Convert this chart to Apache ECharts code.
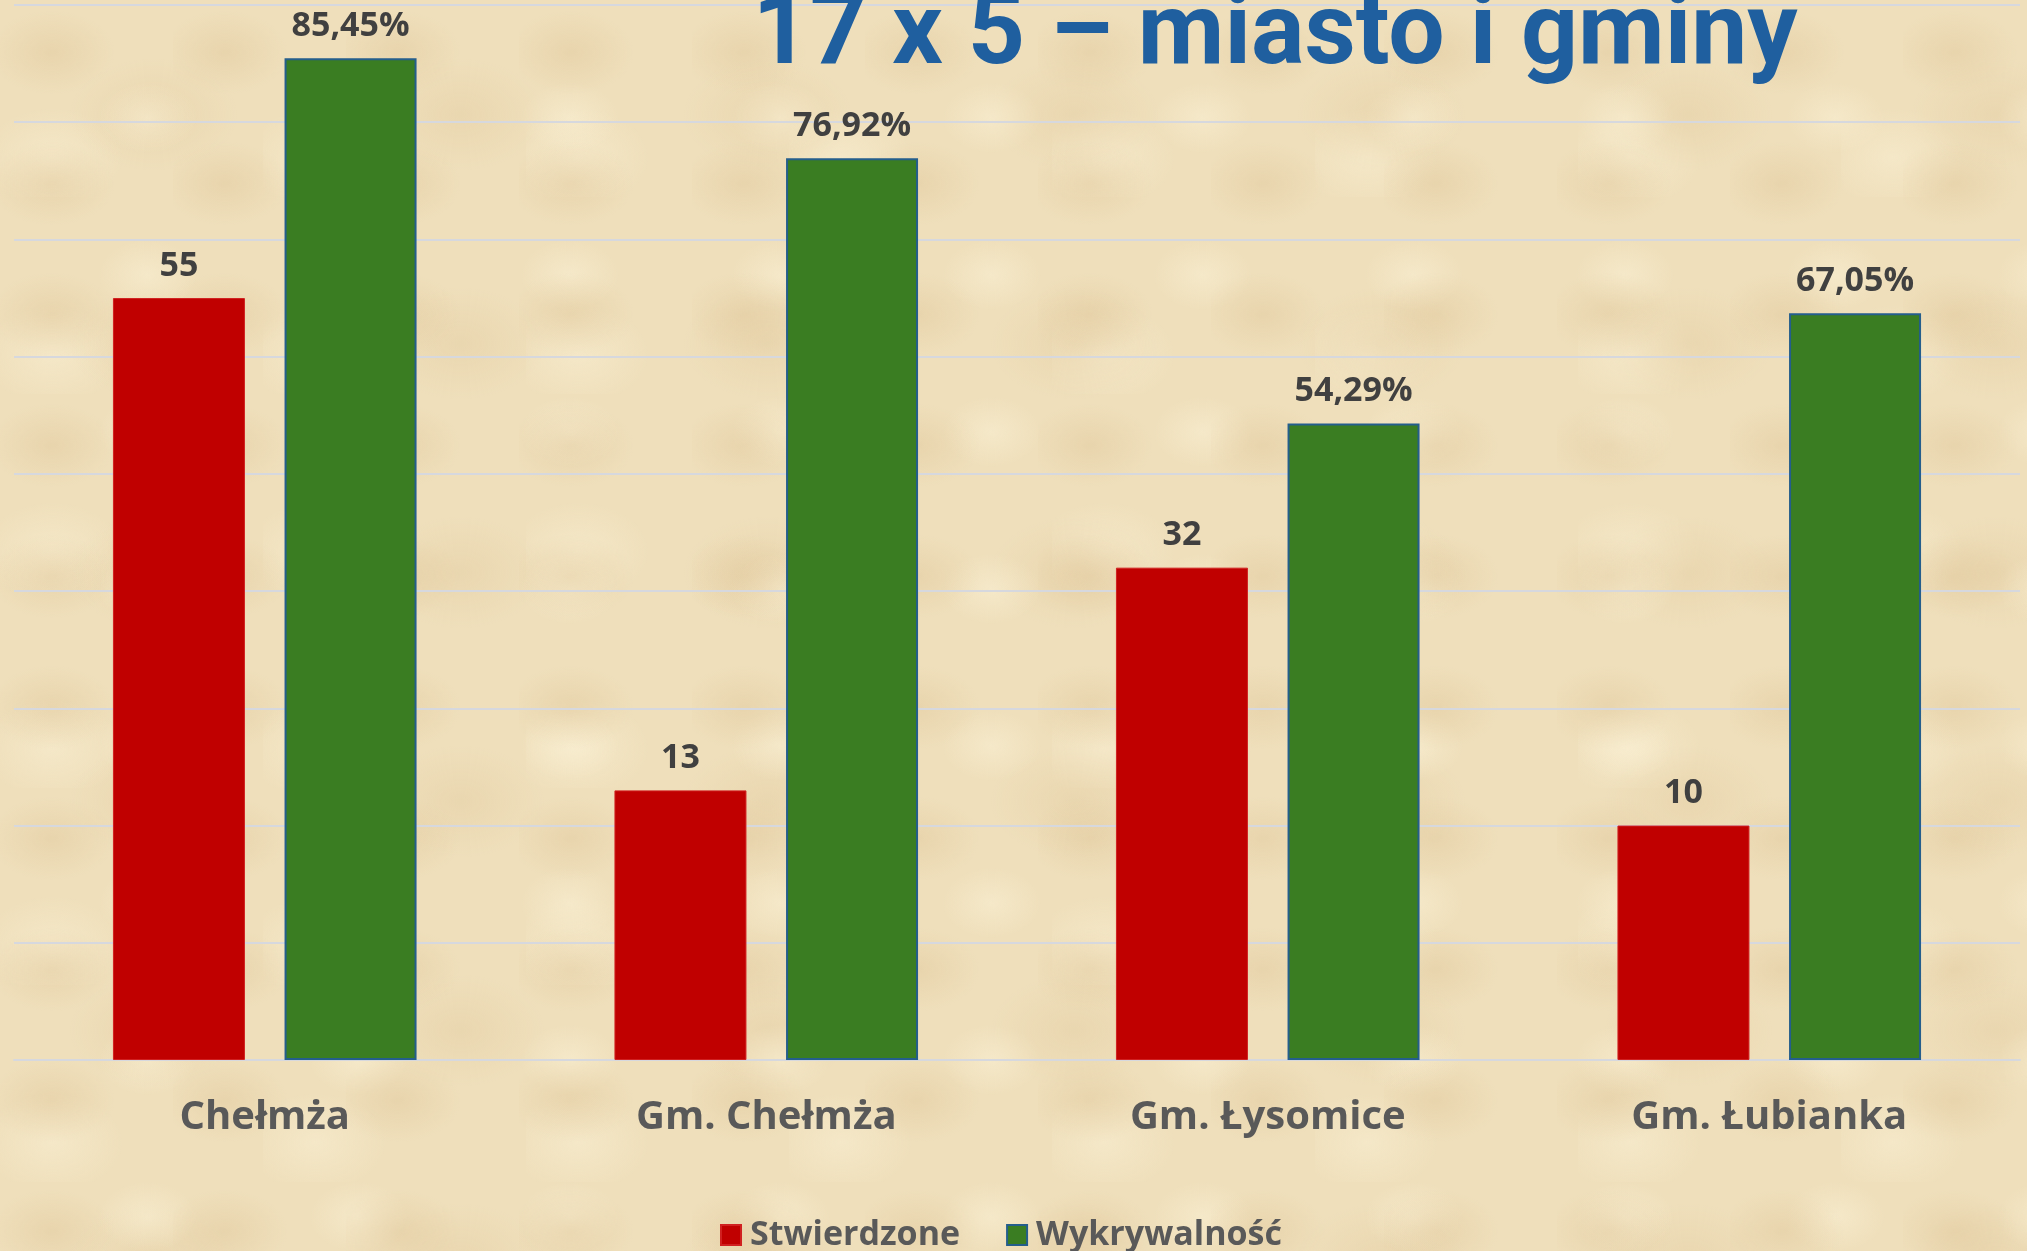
<!DOCTYPE html>
<html>
<head>
<meta charset="utf-8">
<script src="https://cdn.jsdelivr.net/npm/echarts@6/dist/echarts.min.js"></script>
<style>
html, body { margin: 0; padding: 0; width: 100%; height: 100%; overflow: hidden; }
body {
    background-color: #efdfbb;
    background-image:
        radial-gradient(ellipse 90px 60px at 30% 40%, rgba(215,185,135,0.28), rgba(215,185,135,0) 70%),
        radial-gradient(ellipse 70px 50px at 70% 75%, rgba(250,240,212,0.55), rgba(250,240,212,0) 70%),
        radial-gradient(ellipse 120px 80px at 50% 50%, rgba(215,185,135,0.22), rgba(215,185,135,0) 70%),
        radial-gradient(ellipse 100px 70px at 20% 80%, rgba(250,240,212,0.5), rgba(250,240,212,0) 70%);
    background-size: 173px 131px, 211px 157px, 307px 229px, 263px 197px;
}
#main { width: 2027px; height: 1251px; }
</style>
</head>
<body>
<div id="main"></div>
<script>
var categories = ['Chełmża', 'Gm. Chełmża', 'Gm. Łysomice', 'Gm. Łubianka'];
var stwierdzone = [55, 13, 32, 10];
// bar heights as drawn in the picture (last bar is drawn lower than its label)
var wykrywalnosc = [85.45, 76.92, 54.29, 63.7];
var wykrywalnoscLabels = ['85,45%', '76,92%', '54,29%', '67,05%'];

var myChart = echarts.init(document.getElementById('main'));

var labelStyle = {
    show: true,
    position: 'top',
    distance: 15,
    color: '#404040',
    fontFamily: 'Open Sans',
    fontWeight: 'bold',
    fontSize: 34
};

var option = {
    backgroundColor: 'transparent',
    animation: false,
    graphic: [{
        type: 'text',
        style: {
            text: '17 x 5 – miasto i gminy',
            x: 1275,
            y: 38,
            fill: '#1f5f9f',
            font: 'bold 100px Roboto',
            align: 'center',
            verticalAlign: 'middle'
        },
        z: 10
    }],
    legend: {
        bottom: -6,
        left: 715,
        icon: 'rect',
        itemWidth: 20,
        itemHeight: 20,
        itemGap: 46,
        textStyle: {
            color: '#595959',
            fontFamily: 'Open Sans',
            fontWeight: 'bold',
            fontSize: 34,
            padding: [0, 0, 0, 4]
        },
        data: ['Stwierdzone', 'Wykrywalność']
    },
    grid: {
        left: 14,
        right: 7,
        top: 5,
        bottom: 191,
        containLabel: false
    },
    xAxis: {
        type: 'category',
        data: categories,
        axisLine: { lineStyle: { color: '#d6d8de', width: 2 } },
        axisTick: { show: false },
        axisLabel: {
            margin: 38,
            color: '#595959',
            fontFamily: 'Open Sans',
            fontWeight: 'bold',
            fontSize: 40
        }
    },
    yAxis: [{
        type: 'value',
        min: 0,
        max: 90,
        interval: 10,
        axisLabel: { show: false },
        axisLine: { show: false },
        axisTick: { show: false },
        splitLine: { lineStyle: { color: '#d6d8de', width: 2 } }
    }, {
        type: 'value',
        min: -10,
        max: 80,
        interval: 10,
        startValue: -10,
        axisLabel: { show: false },
        axisLine: { show: false },
        axisTick: { show: false },
        splitLine: { show: false }
    }],
    series: [{
        name: 'Stwierdzone',
        type: 'bar',
        yAxisIndex: 1,
        data: stwierdzone,
        barWidth: 132,
        barGap: '30%',
        itemStyle: { color: '#c00000', borderColor: '#d02020', borderWidth: 1 },
        label: labelStyle
    }, {
        name: 'Wykrywalność',
        type: 'bar',
        yAxisIndex: 0,
        data: wykrywalnosc,
        barWidth: 132,
        barGap: '30%',
        itemStyle: { color: '#3a7d22', borderColor: '#245e8c', borderWidth: 2 },
        label: Object.assign({}, labelStyle, {
            formatter: function (p) {
                return wykrywalnoscLabels[p.dataIndex];
            }
        })
    }]
};

myChart.setOption(option);
</script>
</body>
</html>
